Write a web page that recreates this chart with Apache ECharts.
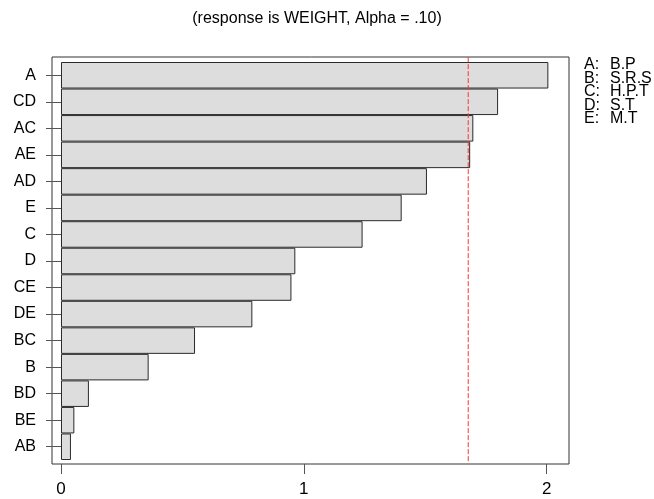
<!DOCTYPE html>
<html>
<head>
<meta charset="utf-8">
<script src="https://cdn.jsdelivr.net/npm/echarts@6/dist/echarts.min.js"></script>
<style>
  html, body { margin: 0; padding: 0; background: #fff; }
  #chart { width: 654px; height: 499px; }
</style>
</head>
<body>
<div id="chart"></div>
<script>
// ---- data ----
const categories = ['A', 'CD', 'AC', 'AE', 'AD', 'E', 'C', 'D', 'CE', 'DE', 'BC', 'B', 'BD', 'BE', 'AB'];
const effects = [2.007, 1.800, 1.698, 1.685, 1.507, 1.403, 1.242, 0.965, 0.949, 0.788, 0.552, 0.361, 0.115, 0.055, 0.041];
const referenceValue = 1.677;
const xTickValues = [0, 1, 2];
const factorKeys = ['A:', 'B:', 'C:', 'D:', 'E:'];
const factorNames = ['B.P', 'S.R.S', 'H.P.T', 'S.T', 'M.T'];
const titleText = '(response is WEIGHT, Alpha = .10)';

const xMin = -0.037, xMax = 2.092;
const font = 'Arial, "Liberation Sans", sans-serif';
const refColor = '#ff3333';

const chart = echarts.init(document.getElementById('chart'), null, { renderer: 'canvas' });

const legendGraphics = [];
factorKeys.forEach((k, i) => {
  legendGraphics.push({
    type: 'text', left: 584, top: 57 + i * 13.5,
    style: { text: k, font: '16px ' + font, fill: '#000' }
  });
  legendGraphics.push({
    type: 'text', left: 610, top: 57 + i * 13.5,
    style: { text: factorNames[i], font: '16px ' + font, fill: '#000' }
  });
});

const option = {
  animation: false,
  backgroundColor: '#fff',
  grid: [
    { left: 52, right: 85, top: 57, bottom: 35, show: true, borderColor: '#333', borderWidth: 1, backgroundColor: 'transparent' },
    { left: 52, right: 85, top: 62, bottom: 39 }
  ],
  xAxis: [
    {
      gridIndex: 0, type: 'value', min: xMin, max: xMax,
      axisLine: { show: false },
      splitLine: { show: false },
      axisTick: { show: true, length: 10, customValues: xTickValues, lineStyle: { color: '#555', width: 1 } },
      axisLabel: { show: true, customValues: xTickValues, margin: 17, fontSize: 17, fontFamily: font, color: '#000' }
    },
    {
      gridIndex: 1, type: 'value', min: xMin, max: xMax, show: false
    }
  ],
  yAxis: [
    { gridIndex: 0, type: 'value', min: 0, max: 1, show: false },
    {
      gridIndex: 1, type: 'category', data: categories, inverse: true,
      axisLine: { show: false },
      axisTick: { show: true, alignWithLabel: true, length: 15, lineStyle: { color: '#555', width: 1 } },
      axisLabel: { margin: 16, fontSize: 16, fontFamily: font, color: '#000' },
      splitLine: { show: false }
    }
  ],
  series: [
    {
      type: 'bar', xAxisIndex: 1, yAxisIndex: 1,
      data: effects,
      barCategoryGap: 0,
      itemStyle: { color: '#dddddd', borderColor: '#2a2a2a', borderWidth: 1 }
    },
    {
      type: 'line', xAxisIndex: 0, yAxisIndex: 0,
      data: [[referenceValue, 0.007], [referenceValue, 1]],
      symbol: 'none', silent: true, z: 5,
      itemStyle: { color: refColor },
      lineStyle: { color: refColor, type: [5, 2], width: 1 }
    }
  ],
  graphic: [
    {
      type: 'text', x: 317, y: 11,
      style: { text: titleText, font: '16px ' + font, fill: '#000', textAlign: 'center' }
    }
  ].concat(legendGraphics)
};

chart.setOption(option);
</script>
</body>
</html>
